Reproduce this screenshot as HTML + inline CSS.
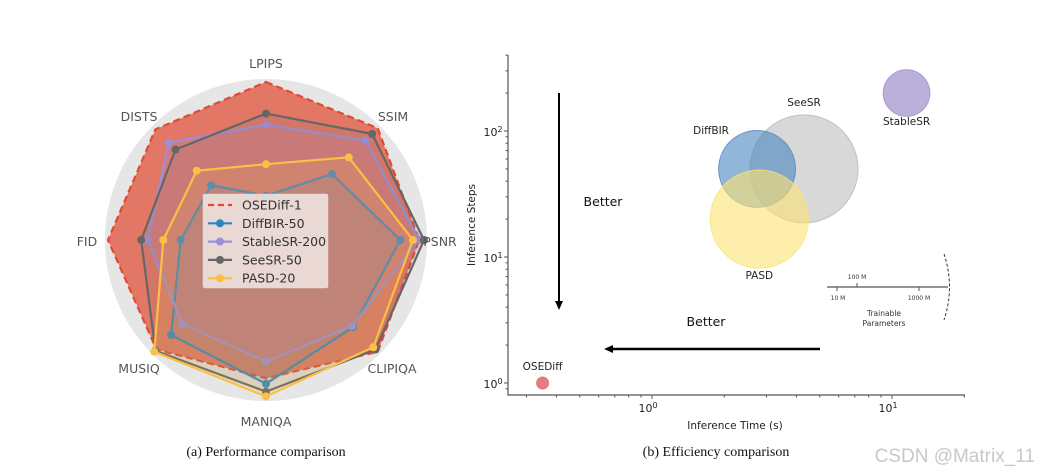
<!DOCTYPE html>
<html><head><meta charset="utf-8"><style>
body{margin:0;background:#fff;width:1040px;height:473px;overflow:hidden}
svg{display:block}
</style></head><body>
<svg id="fig" width="1040" height="473" viewBox="0 0 1040 473" font-family="'DejaVu Sans','Liberation Sans',sans-serif">
<g id="radar"></g>
<g id="bubble"></g>
<text x="266" y="456" text-anchor="middle" font-family="'Liberation Serif',serif" font-size="14" fill="#111">(a) Performance comparison</text>
<text x="716" y="456" text-anchor="middle" font-family="'Liberation Serif',serif" font-size="14" fill="#111">(b) Efficiency comparison</text>
<text x="1035" y="462" text-anchor="end" font-family="'Liberation Sans',sans-serif" font-size="19" fill="#c8c8c8">CSDN @Matrix_11</text>
</svg>
<script>
// ---- Radar data ----
const metrics = ["LPIPS","SSIM","PSNR","CLIPIQA","MANIQA","MUSIQ","FID","DISTS"];
const seriesNames = ["OSEDiff-1","DiffBIR-50","StableSR-200","SeeSR-50","PASD-20"];
const oseVals = [1.0,1.0,0.97,1.0,0.875,0.98,1.0,0.99];
const diffbirVals = [0.28,0.59,0.85,0.78,0.91,0.85,0.54,0.49];
const stableVals = [0.73,0.89,0.97,0.77,0.77,0.75,0.75,0.87];
const seesrVals = [0.80,0.95,1.0,0.98,0.96,0.99,0.79,0.81];
const pasdVals = [0.48,0.74,0.93,0.96,0.99,1.0,0.65,0.62];
// ---- Bubble data ----
const methods = ["OSEDiff","DiffBIR","SeeSR","PASD","StableSR"];
const times = [0.35,2.74,4.3,2.8,11.5];
const steps = [1,50,50,20,200];
const params = [8,380,750,620,140]; // millions (bubble size)
const xTicks = [1,10];
const yTicks = [1,10,100];

const NS="http://www.w3.org/2000/svg";
function mk(tag,attrs,parent,text){const e=document.createElementNS(NS,tag);for(const k in attrs)e.setAttribute(k,attrs[k]);if(text!==undefined)e.textContent=text;parent.appendChild(e);return e;}

// Radar
const R=document.getElementById('radar');
const cx=266,cy=240,rMax=158;
function pt(i,v){const a=-Math.PI/2+i*2*Math.PI/metrics.length;return [cx+rMax*v*Math.cos(a),cy+rMax*v*Math.sin(a)];}
let bg=mk('circle',{cx:cx,cy:cy,r:161,fill:'#e6e6e6'},R);


[0.25,0.5,0.75].forEach(f=>{let c=mk('circle',{cx:cx,cy:cy,r:161*f,fill:'none',stroke:'#fff','stroke-width':0.6,opacity:0.5},R);

});
const allVals=[oseVals,diffbirVals,stableVals,seesrVals,pasdVals];
const cols=['#e04a33','#2e86c1','#9b8fdc','#666666','#fbbf45'];
const fills=['#e0634f','#2e86c1','#9b8fdc','#777777','#fbbf45'];
const fop=[0.85,0.15,0.15,0.15,0.15];
allVals.forEach((vals,s)=>{
  const pts=vals.map((v,i)=>pt(i,v).join(',')).join(' ');
  let p=mk('polygon',{points:pts,fill:fills[s],'fill-opacity':fop[s],stroke:cols[s],'stroke-width':s==0?2.2:2.2,'stroke-dasharray':s==0?'7,4':'none','stroke-linejoin':'round'},R);
  
  
  if(s>0){vals.forEach((v,i)=>{const [x,y]=pt(i,v);let c=mk('circle',{cx:x,cy:y,r:4,fill:cols[s]},R);
    
    });}
});
const labelOff=[[0,-176],[127,-123],[174,2],[126,129],[0,182],[-127,129],[-179,2],[-127,-123]];
metrics.forEach((m,i)=>{let t=mk('text',{x:cx+labelOff[i][0],y:cy+labelOff[i][1]+4,'text-anchor':'middle','font-size':12.5,fill:'#555'},R,m);

});
// legend
let lg=mk('g',{},R);


mk('rect',{x:203,y:194,width:125,height:94,fill:'#f0e6e4','fill-opacity':0.85,rx:2,stroke:'#ddd','stroke-width':0.5},lg);
seriesNames.forEach((n,s)=>{const y=205+s*18.3;
  let g=mk('g',{},lg);
  
  
  mk('line',{x1:208,y1:y,x2:232,y2:y,stroke:cols[s],'stroke-width':2.2,'stroke-dasharray':s==0?'6,4':'none'},g);
  if(s>0)mk('circle',{cx:220,cy:y,r:4,fill:cols[s]},g);
  mk('text',{x:242,y:y+4.5,'font-size':12.5,fill:'#333'},g,n);
});

// Bubble chart
const B=document.getElementById('bubble');
const x0=508,x1=965,yTop=55,yBot=395;
const X=t=>652+240*Math.log10(t);
const Y=s=>383-126*Math.log10(s);
const bcol=['#e06666','#4a86c0','#b8b8b8','#fde373','#9d8fca'];
const bop=[0.85,0.6,0.55,0.6,0.7];
const rad=p=>Math.max(6,5.8*Math.sqrt(p)*0.34);
// draw order: SeeSR, DiffBIR, PASD, StableSR, OSEDiff
[2,1,3,4,0].forEach(i=>{
  let r=[6,39,54,50,24][i]; // fallback visual sizes mapped below
  r=i==0?6:rad(params[i]);
  let c=mk('circle',{cx:X(times[i]),cy:Y(steps[i]),r:r,fill:bcol[i],'fill-opacity':bop[i],stroke:bcol[i],'stroke-opacity':0.8},B);
  
  
});
const lblPos=[[0,-13],[-46,-35],[0,-63],[0,60],[0,32]];
methods.forEach((m,i)=>{let t=mk('text',{x:X(times[i])+lblPos[i][0],y:Y(steps[i])+lblPos[i][1],'text-anchor':'middle','font-size':10.5,fill:'#222'},B,m);

});
// axes
let ax=mk('path',{d:`M${x0},${yTop} V${yBot} H${x1}`,fill:'none',stroke:'#555','stroke-width':1.2},B);


for(let d=-1;d<=1;d++)for(let k=1;k<10;k++){const v=k*Math.pow(10,d);const x=X(v);if(x<x0||x>x1)continue;
  mk('line',{x1:x,y1:yBot,x2:x,y2:yBot+(k==1?4:2.5),stroke:'#555'},B);}
for(let d=-1;d<=2;d++)for(let k=1;k<10;k++){const v=k*Math.pow(10,d);const y=Y(v);if(y<yTop||y>yBot)continue;
  mk('line',{x1:x0,y1:y,x2:x0-(k==1?4:2.5),y2:y,stroke:'#555'},B);}
const exps=['0','1','2'];
xTicks.forEach((v,i)=>{let t=mk('text',{x:X(v)-4,y:412,'text-anchor':'middle','font-size':11,fill:'#222'},B,'10');
mk('tspan',{dy:-4,'font-size':8},t,exps[Math.round(Math.log10(v))]);

});
yTicks.forEach(v=>{let t=mk('text',{x:493,y:Y(v)+5,'text-anchor':'middle','font-size':11,fill:'#222'},B,'10');
mk('tspan',{dy:-4,'font-size':8},t,exps[Math.round(Math.log10(v))]);

});
let xt=mk('text',{x:735,y:429,'text-anchor':'middle','font-size':10.5,fill:'#222'},B,'Inference Time (s)');


let yt=mk('text',{x:0,y:0,'text-anchor':'middle','font-size':10.5,fill:'#222',transform:'translate(475,225) rotate(-90)'},B,'Inference Steps');


// arrows
let a1=mk('g',{},B);


mk('line',{x1:559,y1:93,x2:559,y2:302,stroke:'#000','stroke-width':2},a1);
mk('polygon',{points:'555,301 563,301 559,310',fill:'#000'},a1);
let a2=mk('g',{},B);


mk('line',{x1:820,y1:349,x2:612,y2:349,stroke:'#000','stroke-width':2.5},a2);
mk('polygon',{points:'613,345 613,353 604,349',fill:'#000'},a2);
let b1=mk('text',{x:603,y:206,'text-anchor':'middle','font-size':12.5,fill:'#111'},B,'Better');


let b2=mk('text',{x:706,y:326,'text-anchor':'middle','font-size':12.5,fill:'#111'},B,'Better');


// size legend
let sl=mk('g',{},B);


mk('line',{x1:827,y1:287,x2:948,y2:287,stroke:'#555','stroke-width':1.3},sl);
[[837,291],[857,283],[919,291]].forEach(([x,y])=>mk('line',{x1:x,y1:287,x2:x,y2:y,stroke:'#555'},sl));
mk('text',{x:838,y:300,'text-anchor':'middle','font-size':6,fill:'#333'},sl,'10 M');
mk('text',{x:857,y:279,'text-anchor':'middle','font-size':6,fill:'#333'},sl,'100 M');
mk('text',{x:919,y:300,'text-anchor':'middle','font-size':6,fill:'#333'},sl,'1000 M');
mk('text',{x:884,y:316,'text-anchor':'middle','font-size':7.5,fill:'#333'},sl,'Trainable');
mk('text',{x:884,y:326,'text-anchor':'middle','font-size':7.5,fill:'#333'},sl,'Parameters');
mk('path',{d:'M944,254 Q955,287 944,320',fill:'none',stroke:'#333','stroke-dasharray':'3,2'},sl);
</script>
</body></html>
